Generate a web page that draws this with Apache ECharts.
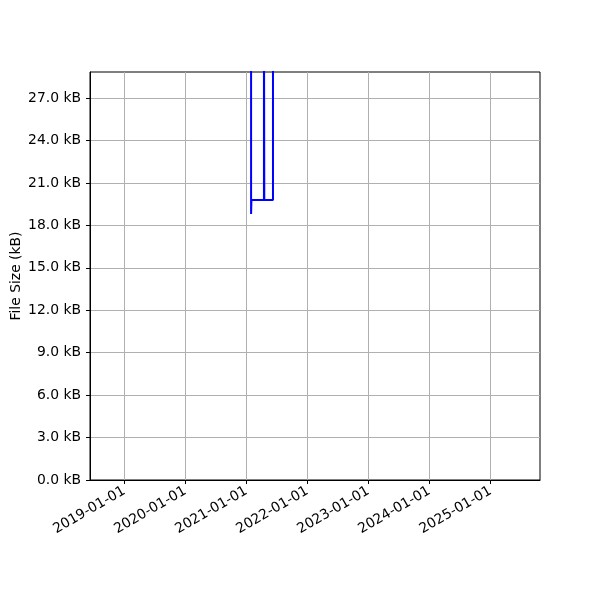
<!DOCTYPE html>
<html>
<head>
<meta charset="utf-8">
<script src="https://cdn.jsdelivr.net/npm/echarts@6/dist/echarts.min.js"></script>
<style>html,body{margin:0;padding:0;background:#fff}#c{width:600px;height:600px}</style>
</head>
<body>
<div id="c"></div>
<script>
// Data (file size in kB over time; values above the axis top are off-chart)
const dates = ['2018-10-11', '2021-01-29', '2021-01-31', '2021-04-16', '2021-04-18', '2021-06-09', '2025-06-17'];
const sizes = [35.0, 18.8, 19.8, 35.0, 19.8, 35.0, 35.0];
const xTickLabels = ['2019-01-01', '2020-01-01', '2021-01-01', '2022-01-01', '2023-01-01', '2024-01-01', '2025-01-01'];
const yTicks = [0, 3, 6, 9, 12, 15, 18, 21, 24, 27];
const xRange = ['2018-06-10', '2025-10-24'];
const yMax = 28.84;

const ts = s => Date.parse(s + 'T00:00:00Z');
const pad = n => String(n).padStart(2, '0');
const fmtDate = v => { const d = new Date(v); return d.getUTCFullYear() + '-' + pad(d.getUTCMonth() + 1) + '-' + pad(d.getUTCDate()); };

const font = 'DejaVu Sans';
const fs = 13.9;
const chart = echarts.init(document.getElementById('c'), null, { renderer: 'canvas' });
chart.setOption({
  animation: false,
  backgroundColor: '#fff',
  grid: { left: 90, right: 60, top: 72, bottom: 120, containLabel: false, outerBoundsMode: 'none', show: true, borderColor: '#000', borderWidth: 1, backgroundColor: 'transparent' },
  xAxis: {
    type: 'value',
    min: ts(xRange[0]), max: ts(xRange[1]),
    axisLine: { show: true, onZero: false, lineStyle: { color: '#000', width: 1 } },
    axisTick: { show: true, length: 4, lineStyle: { color: '#000' }, customValues: xTickLabels.map(ts) },
    axisLabel: { customValues: xTickLabels.map(ts), formatter: v => fmtDate(v), rotate: 30, color: '#000', fontFamily: font, fontSize: fs, margin: 10 },
    splitLine: { show: true, lineStyle: { color: '#b0b0b0', width: 1 } }
  },
  yAxis: {
    type: 'value',
    min: 0, max: yMax,
    name: 'File Size (kB)', nameLocation: 'middle', nameGap: 67, nameMoveOverlap: false,
    nameTextStyle: { color: '#000', fontFamily: font, fontSize: fs },
    axisLine: { show: true, onZero: false, lineStyle: { color: '#000', width: 1 } },
    axisTick: { show: true, length: 4, lineStyle: { color: '#000' }, customValues: yTicks },
    axisLabel: { customValues: yTicks, formatter: v => v.toFixed(1) + ' kB', color: '#000', fontFamily: font, fontSize: fs, margin: 9 },
    splitLine: { show: true, lineStyle: { color: '#b0b0b0', width: 1 } }
  },
  series: [{
    type: 'line',
    step: 'end',
    data: dates.map((d, i) => [ts(d), sizes[i]]),
    showSymbol: false,
    clip: true,
    lineStyle: { color: '#0000ff', width: 2 },
    itemStyle: { color: '#0000ff' }
  }]
});
</script>
</body>
</html>
